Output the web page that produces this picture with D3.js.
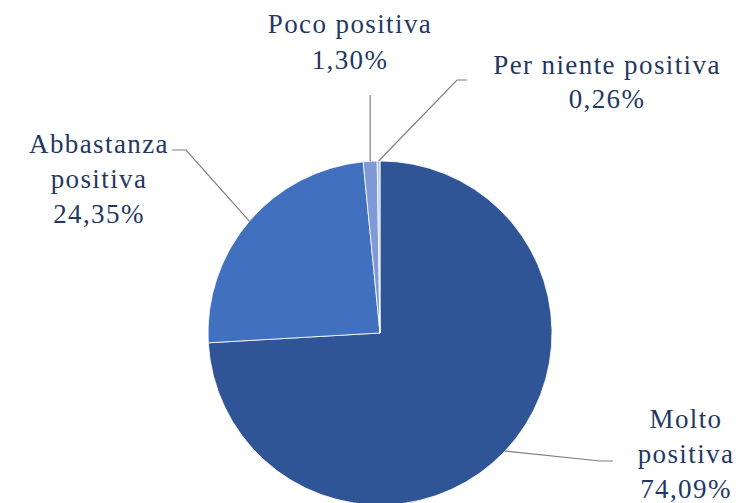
<!DOCTYPE html>
<html><head><meta charset="utf-8">
<script src="https://cdn.jsdelivr.net/npm/d3@7/dist/d3.min.js"></script>
<style>body{margin:0;background:#fff;}svg{display:block;}
.lbl{font-family:"Liberation Serif","Times New Roman","DejaVu Serif","Noto Serif",Times,serif;letter-spacing:1.4px;}</style>
</head><body>
<svg id="c" width="738" height="503"></svg>
<script>
const categories = ["Molto positiva", "Abbastanza positiva", "Poco positiva", "Per niente positiva"];
const values = [74.09, 24.35, 1.30, 0.26];
const valueLabels = ["74,09%", "24,35%", "1,30%", "0,26%"];
const colors = ["#2f5597", "#4170be", "#7f9ad6", "#b4c7e7"];

const svg = d3.select("#c");
const cx = 380, cy = 333, r = 172;
const g = svg.append("g").attr("transform", `translate(${cx},${cy})`);
const pie = d3.pie().sort(null).value(d => d)(values);
const arc = d3.arc().innerRadius(0).outerRadius(r);
g.selectAll("path").data(pie).enter().append("path")
  .attr("d", arc).attr("fill", (d, i) => colors[i])
  .attr("stroke", "#fff").attr("stroke-width", 0.8);

const labelCfg = [
  {lines: ["Molto", "positiva", valueLabels[0]], x: 686, y0: 428, lh: 35, elbow: [600, 461], end: [613, 461]},
  {lines: ["Abbastanza", "positiva", valueLabels[1]], x: 99, y0: 153, lh: 35, elbow: [186, 150], end: [172, 150]},
  {lines: ["Poco positiva", valueLabels[2]], x: 350, y0: 33, lh: 36, vert: 95},
  {lines: ["Per niente positiva", valueLabels[3]], x: 607, y0: 74, lh: 34, elbow: [457, 80], end: [467, 80]}
];

pie.forEach((d, i) => {
  const a = (d.startAngle + d.endAngle) / 2;
  const sx = cx + r * Math.sin(a), sy = cy - r * Math.cos(a);
  const c = labelCfg[i];
  const pts = c.vert !== undefined ? [[sx, sy], [sx, c.vert]] : [[sx, sy], c.elbow, c.end];
  svg.append("polyline").attr("points", pts.map(p => p.join(",")).join(" "))
    .attr("fill", "none").attr("stroke", "#7f7f7f").attr("stroke-width", 1.2);
  const t = svg.append("text").attr("class", "lbl").attr("text-anchor", "middle")
    .attr("font-size", 27).attr("fill", "#1f3864");
  c.lines.forEach((ln, j) => {
    t.append("tspan").attr("x", c.x).attr("y", c.y0 + j * c.lh).text(ln);
  });
});
</script>
</body></html>
